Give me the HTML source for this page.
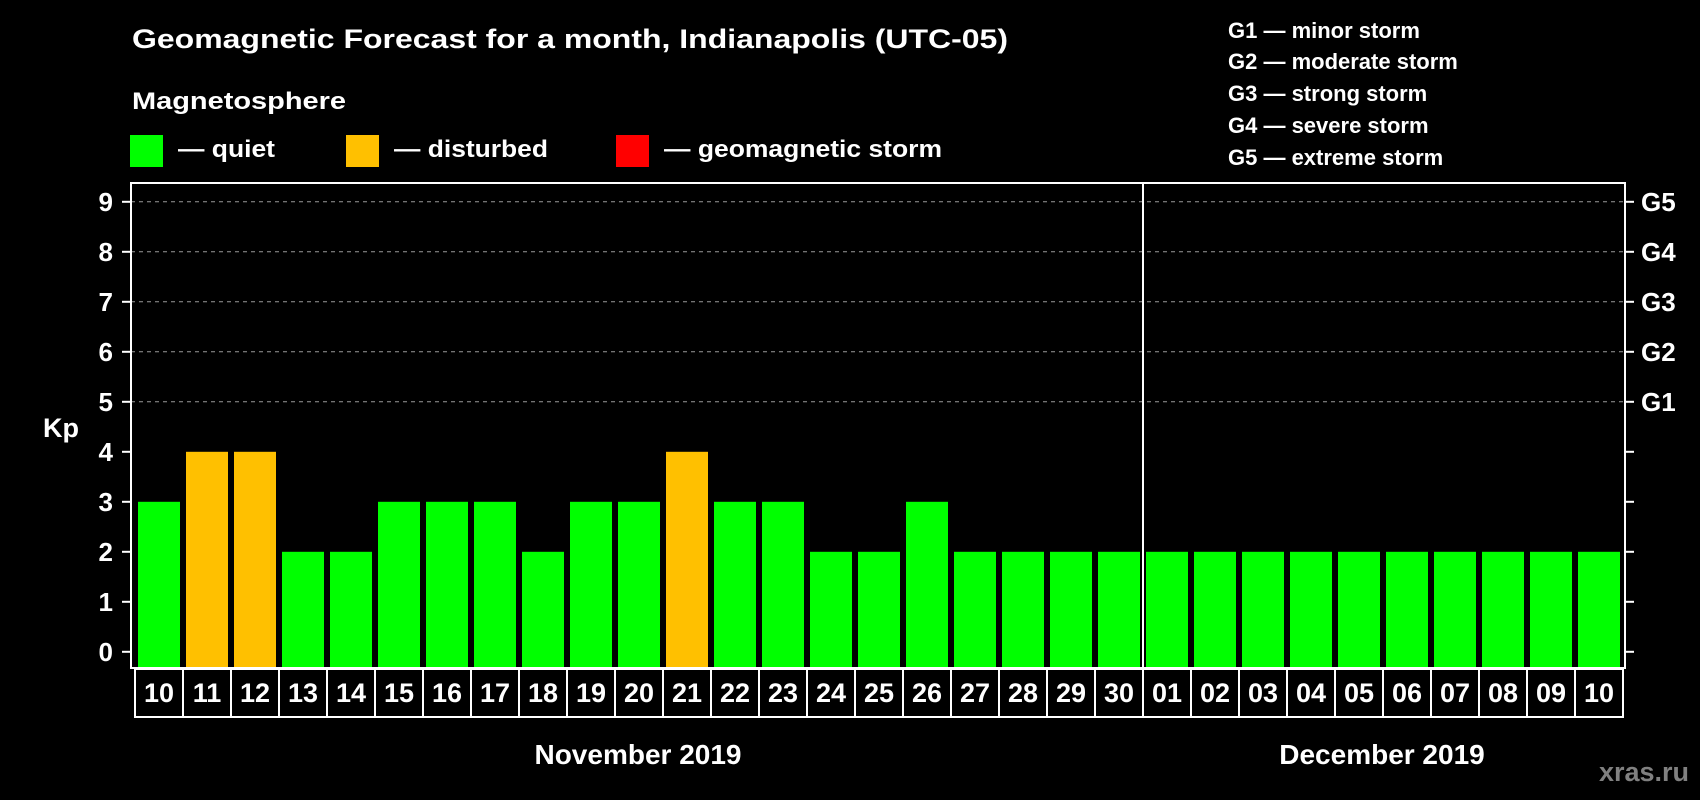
<!DOCTYPE html>
<html><head><meta charset="utf-8"><style>
html,body{margin:0;padding:0;background:#000;}
svg{display:block;font-family:"Liberation Sans",Arial,sans-serif;font-weight:bold;}
</style></head><body>
<svg id="chart" width="1700" height="800" viewBox="0 0 1700 800" xmlns="http://www.w3.org/2000/svg">
<rect width="1700" height="800" fill="#000"/>
<text x="132" y="48" fill="#fff" font-size="27" textLength="876" lengthAdjust="spacingAndGlyphs">Geomagnetic Forecast for a month, Indianapolis (UTC-05)</text>
<text x="132" y="109" fill="#fff" font-size="24" textLength="214" lengthAdjust="spacingAndGlyphs">Magnetosphere</text>
<g>
<rect x="130" y="135" width="33" height="32" fill="#00ff00"/>
<text x="178" y="157" fill="#fff" font-size="24" textLength="97" lengthAdjust="spacingAndGlyphs">— quiet</text></g>
<g>
<rect x="346" y="135" width="33" height="32" fill="#ffc000"/>
<text x="394" y="157" fill="#fff" font-size="24" textLength="154" lengthAdjust="spacingAndGlyphs">— disturbed</text></g>
<g>
<rect x="616" y="135" width="33" height="32" fill="#ff0000"/>
<text x="664" y="157" fill="#fff" font-size="24" textLength="278" lengthAdjust="spacingAndGlyphs">— geomagnetic storm</text></g>
<g fill="#fff" font-size="22">
<text x="1228" y="38">G1 — minor storm</text>
<text x="1228" y="69">G2 — moderate storm</text>
<text x="1228" y="101">G3 — strong storm</text>
<text x="1228" y="133">G4 — severe storm</text>
<text x="1228" y="165">G5 — extreme storm</text>
</g>
<text x="43" y="437" fill="#fff" font-size="27">Kp</text>
<g id="grid"></g><g id="bars"></g><g id="axes"></g><g id="labels"></g>
<text x="638" y="764" fill="#fff" font-size="28" text-anchor="middle">November 2019</text>
<text x="1382" y="764" fill="#fff" font-size="28" text-anchor="middle">December 2019</text>
<text x="1689" y="781" fill="#808080" font-size="27" text-anchor="end">xras.ru</text>
</svg>
<script>
const days = ["10","11","12","13","14","15","16","17","18","19","20","21","22","23","24","25","26","27","28","29","30","01","02","03","04","05","06","07","08","09","10"];
const kpValues = [3,4,4,2,2,3,3,3,2,3,3,4,3,3,2,2,3,2,2,2,2,2,2,2,2,2,2,2,2,2,2];
const yTicks = [0,1,2,3,4,5,6,7,8,9];
const gLabels = ["G1","G2","G3","G4","G5"];
const monthBreakIndex = 21;

const NS="http://www.w3.org/2000/svg";
const L=131,R=1625,T=183,B=668;
function yS(v){return 651.8-v*50;}
function xS(i){return 138+i*48;}
function mk(tag,attrs,parent){const e=document.createElementNS(NS,tag);for(const k in attrs)e.setAttribute(k,attrs[k]);parent.appendChild(e);return e;}
const grid=document.getElementById('grid'),bars=document.getElementById('bars'),axes=document.getElementById('axes'),labels=document.getElementById('labels');
yTicks.forEach(v=>{
  const y=yS(v);
  if(v>=5){const g=mk('line',{x1:L,x2:R,y1:y,y2:y,stroke:'#999','stroke-width':1,'stroke-dasharray':'4,4'},grid);
    
    }
  mk('line',{x1:122,x2:L,y1:y,y2:y,stroke:'#fff','stroke-width':2},axes);
  mk('line',{x1:R,x2:1634,y1:y,y2:y,stroke:'#fff','stroke-width':2},axes);
  const t=mk('text',{x:113,y:y+9,fill:'#fff','font-size':26,'text-anchor':'end'},labels);
  t.textContent=v;
  
  
});
gLabels.forEach((g,i)=>{
  const t=mk('text',{x:1641,y:yS(5+i)+9,fill:'#fff','font-size':26},labels);
  t.textContent=g;
  
  
});
kpValues.forEach((v,i)=>{
  const c=v>=5?'#ff0000':(v>=4?'#ffc000':'#00ff00');
  const r=mk('rect',{x:xS(i),y:yS(v),width:42,height:B-yS(v),fill:c},bars);
  
  
});
mk('rect',{x:L,y:T,width:R-L,height:B-T,fill:'none',stroke:'#fff','stroke-width':2},axes);
const dx=(xS(monthBreakIndex-1)+42+xS(monthBreakIndex))/2;
mk('line',{x1:dx,x2:dx,y1:T,y2:B,stroke:'#fff','stroke-width':2},axes);
days.forEach((d,i)=>{
  const cx=135+i*48;
  const cell=mk('rect',{x:cx,y:669,width:48,height:48,fill:'none',stroke:'#fff','stroke-width':2},labels);
  
  
  const t=mk('text',{x:cx+24,y:702,fill:'#fff','font-size':27,'text-anchor':'middle'},labels);
  t.textContent=d;
  
  
});
</script>
</body></html>
